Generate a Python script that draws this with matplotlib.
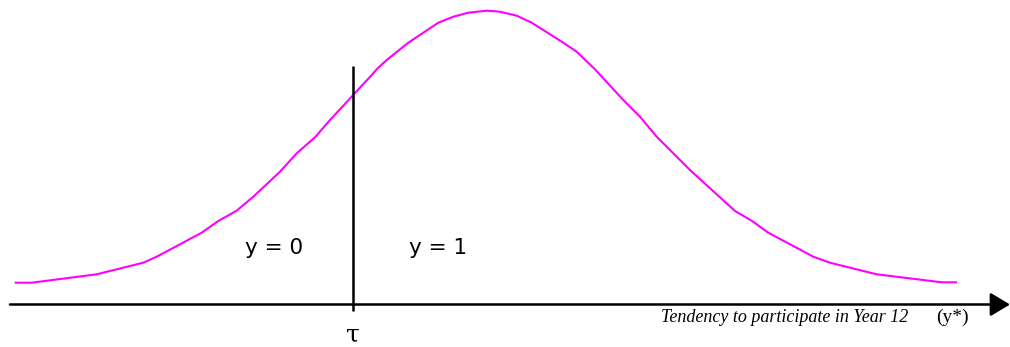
import numpy as np
import matplotlib
matplotlib.use("Agg")
import matplotlib.pyplot as plt

# curve: tendency (x) and density height above the axis
tendency = [15.7, 31.7, 96.7, 143.3, 156.7, 201.7, 218.3, 236.7, 253.3, 280,
            296.7, 315, 330, 340, 371.7, 376.7, 386.7, 408.3, 438.3, 453.3,
            468.3, 486.7, 500, 516.7, 531.7, 563.3, 576.7, 595, 623.3, 640,
            656.7, 673.3, 690, 735, 751.7, 768.3, 813.3, 830, 876.7, 941.7, 956]
density = [21.8, 21.8, 30.2, 41.8, 47.8, 71.8, 83.5, 93.8, 107.8, 132.8,
           151.2, 167.2, 184.5, 195.2, 229.5, 235.2, 244.5, 261.8, 281.8, 287.8,
           291.8, 293.8, 292.8, 288.8, 281.8, 261.8, 252.8, 235.2, 204.5, 187.8,
           167.8, 151.2, 134.5, 93.5, 83.8, 71.8, 47.8, 41.8, 30.2, 22.2, 22.2]

tau = 352.7
tau_top = 238.5
region_labels = ["y = 0", "y = 1"]
region_x = [274.5, 438.0]
axis_label = "Tendency to participate in Year 12"
axis_var = "(y*)"

fig = plt.figure(figsize=(10.10, 3.47), dpi=100)
ax = fig.add_axes([0, 0, 1, 1])
ax.set_xlim(0, 1010)
ax.set_ylim(-42.5, 304.5)
ax.axis("off")

# normal curve
ax.plot(tendency, density, color="#FF00FF", lw=1.5, solid_joinstyle="miter")

# horizontal axis with arrow
ax.annotate("", xy=(1010, 0), xytext=(10, 0),
            arrowprops=dict(arrowstyle="-|>,head_length=0.6,head_width=0.36",
                            mutation_scale=20, lw=1.8, color="black",
                            shrinkA=0, shrinkB=0),
            annotation_clip=False)

# threshold line
ax.vlines(tau, -6, tau_top, color="black", lw=1.8)
ax.text(tau, -41.5, "\u03c4", ha="center", va="bottom", fontsize=18,
        family="DejaVu Serif")

for lab, xx in zip(region_labels, region_x):
    ax.text(xx, 51, lab, ha="center", va="baseline", fontsize=15.5,
            family="DejaVu Sans")

ax.text(908, -17.8, axis_label, ha="right", va="baseline", fontsize=13,
        style="italic", family="Liberation Serif")
ax.text(952, -17.8, axis_var, ha="center", va="baseline", fontsize=14,
        family="Liberation Serif")

fig.savefig("out.png", dpi=100)
